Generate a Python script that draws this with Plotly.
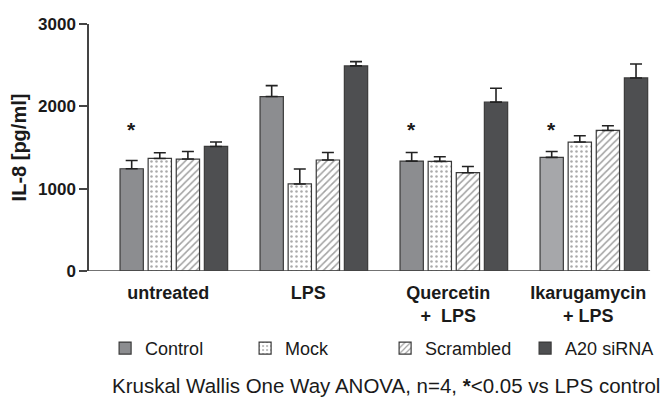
import plotly.graph_objects as go

# ---- data ----
categories = ["untreated", "LPS", "Quercetin<br>+&nbsp;&nbsp;LPS", "Ikarugamycin<br>+ LPS"]
series_names = ["Control", "Mock", "Scrambled", "A20 siRNA"]
control = [1242, 2119, 1335, 1380]
control_err = [100, 133, 105, 72]
mock = [1367, 1057, 1331, 1566]
mock_err = [70, 182, 57, 76]
scrambled = [1360, 1348, 1194, 1707]
scrambled_err = [92, 92, 76, 57]
a20 = [1513, 2491, 2051, 2345]
a20_err = [53, 52, 169, 170]
significant = [True, False, True, True]   # * vs LPS control
star_level = 1720
y_ticks = [0, 1000, 2000, 3000]
footnote = "Kruskal Wallis One Way ANOVA, n=4, <b>*</b><0.05 vs LPS control"

FONT = "Liberation Sans, Arial, sans-serif"
OUT = "#3a3a3a"
x = list(range(len(categories)))

control_colors = ["#8c8d90", "#8c8d90", "#8c8d90", "#a6a7aa"]

def err(v):
    return dict(type="data", array=v, arrayminus=[0] * len(v), symmetric=False,
                color="#222222", thickness=1.6, width=6)

fig = go.Figure()
fig.add_trace(go.Bar(name=series_names[0], x=x, y=control, error_y=err(control_err),
                     marker=dict(color=control_colors, line=dict(color=OUT, width=1.2))))
fig.add_trace(go.Bar(name=series_names[1], x=x, y=mock, error_y=err(mock_err),
                     marker=dict(color="white", line=dict(color=OUT, width=1.2),
                                 pattern=dict(shape=".", fgcolor="#555555", bgcolor="white",
                                              size=5, solidity=0.2))))
fig.add_trace(go.Bar(name=series_names[2], x=x, y=scrambled, error_y=err(scrambled_err),
                     marker=dict(color="white", line=dict(color=OUT, width=1.2),
                                 pattern=dict(shape="/", fgcolor="#444444", bgcolor="white",
                                              size=5, solidity=0.3))))
fig.add_trace(go.Bar(name=series_names[3], x=x, y=a20, error_y=err(a20_err),
                     marker=dict(color="#4e4f51", line=dict(color=OUT, width=1.2))))

bargap = 0.197
slot = (1 - bargap) / 4
for i, s in enumerate(significant):
    if s:
        fig.add_annotation(x=x[i] - 1.5 * slot, y=star_level, xref="x", yref="y",
                           text="<b>*</b>", showarrow=False, yanchor="middle",
                           font=dict(family=FONT, size=21, color="#1a1a1a"))

# baseline (x axis line) ending at the right edge of the last group
x_start = -0.606
fig.add_shape(type="line", xref="x", yref="y", x0=x_start, x1=x[-1] + (1 - bargap) / 2,
              y0=0, y1=0, line=dict(color="#444444", width=1.5))

fig.add_annotation(x=(662 - 89) / 575, y=(271.5 - 386.5) / 247.5, xref="paper", yref="paper",
                   text=footnote, showarrow=False, xanchor="right", yanchor="middle",
                   font=dict(family=FONT, size=20.5, color="#1a1a1a"))

fig.update_layout(
    width=664, height=399,
    margin=dict(l=89, r=0, t=24, b=127.5, autoexpand=False),
    paper_bgcolor="white", plot_bgcolor="white",
    barmode="group", bargap=bargap, bargroupgap=0.171,
    font=dict(family=FONT, color="#1a1a1a"),
    showlegend=True,
    legend=dict(orientation="h", x=0.028, xanchor="left", y=(271.5 - 349) / 247.5, yanchor="middle",
                font=dict(family=FONT, size=18, color="#1a1a1a"),
                entrywidth=95, entrywidthmode="pixels",
                traceorder="normal"),
)
fig.update_xaxes(
    range=[x_start, 3.501], tickvals=[v - 0.04 for v in x], ticktext=[f"<b>{c}</b>" for c in categories],
    showline=False, ticks="", showgrid=False, ticklabelstandoff=9,
    zeroline=False, tickfont=dict(family=FONT, size=18, color="#1a1a1a"), fixedrange=True,
)
fig.update_yaxes(
    range=[0, 3000], tickvals=y_ticks, ticktext=[f"<b>{t}</b>" for t in y_ticks],
    showline=True, linecolor="#444444", linewidth=1.5, ticks="outside", ticklen=8,
    tickwidth=1.5, tickcolor="#444444", showgrid=False, zeroline=False,
    tickfont=dict(family=FONT, size=17, color="#1a1a1a"),
    title=dict(text="<b>IL-8 [pg/ml]</b>", font=dict(family=FONT, size=20, color="#1a1a1a"), standoff=6),
)

fig.write_html("out.html", config={"displayModeBar": False},
               post_script="document.body.style.margin='0px';")
